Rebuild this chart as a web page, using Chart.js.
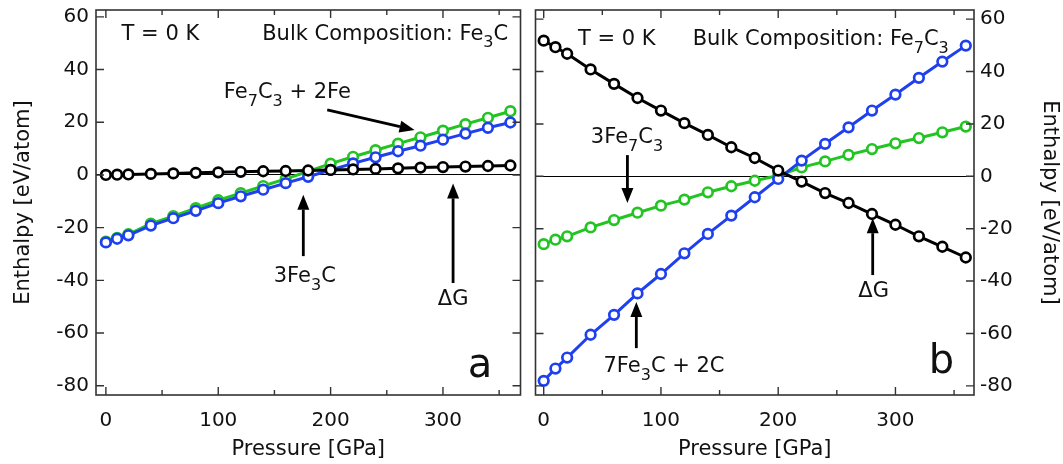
<!DOCTYPE html>
<html>
<head>
<meta charset="utf-8">
<script src="https://cdn.jsdelivr.net/npm/chart.js@4/dist/chart.umd.min.js"></script>
<style>
  html, body { margin: 0; padding: 0; background: #fff; }
  #wrap { position: relative; width: 1063px; height: 464px; }
  #left { position: absolute; left: 0; top: 0; }
  #right { position: absolute; left: 528px; top: 0; }
</style>
</head>
<body>
<div id="wrap">
  <canvas id="left" width="528" height="464"></canvas>
  <canvas id="right" width="535" height="464"></canvas>
</div>
<script>
// pressure points (GPa), shared by both panels
const pressure = [0, 10, 20, 40, 60, 80, 100, 120, 140, 160, 180, 200, 220, 240, 260, 280, 300, 320, 340, 360];

// panel a: bulk composition Fe3C
const aDeltaG = [0, 0.1, 0.2, 0.4, 0.6, 0.8, 1.0, 1.2, 1.4, 1.5, 1.7, 1.9, 2.1, 2.3, 2.5, 2.8, 3.0, 3.2, 3.4, 3.6];
const aThreeFe3C = [-25.6, -24.2, -22.9, -19.2, -16.4, -13.6, -10.7, -8.1, -5.6, -3.1, -0.7, 1.9, 4.4, 6.7, 9.0, 11.1, 13.4, 15.7, 17.9, 19.9];
const aFe7C3Fe = [-25.3, -23.9, -22.5, -18.5, -15.6, -12.6, -9.6, -6.9, -4.2, -1.5, 1.3, 4.3, 6.9, 9.4, 11.9, 14.3, 16.8, 19.3, 21.7, 24.2];

// panel b: bulk composition Fe7C3
const bDeltaG = [51.8, 49.3, 46.8, 40.8, 35.3, 29.9, 25.1, 20.3, 15.8, 11.1, 7.0, 2.2, -2.0, -6.4, -10.2, -14.4, -18.5, -22.9, -26.9, -31.0];
const bSevenFe3C = [-78.1, -73.4, -69.2, -60.5, -52.9, -44.7, -37.3, -29.4, -22.0, -15.0, -8.0, -1.0, 6.0, 12.4, 18.7, 25.1, 31.2, 37.6, 43.8, 49.9];
const bThreeFe7C3 = [-25.9, -24.2, -22.9, -19.5, -16.7, -13.9, -11.2, -8.9, -6.1, -3.8, -1.7, 0.3, 3.4, 5.7, 8.2, 10.4, 12.6, 14.6, 16.8, 19.0];

// tick labels
const enthalpyTicks = [-80, -60, -40, -20, 0, 20, 40, 60];
const pressureTicks = [0, 100, 200, 300];
const pressureMinor = [50, 150, 250, 350];

const FONT = '"DejaVu Sans", sans-serif';
const BLUE = '#1f40ee';
const GREEN = '#22c422';
const BLACK = '#000';

function toPoints(ys) {
  return pressure.map((p, i) => ({ x: p, y: ys[i] }));
}

function series(ys, color) {
  return {
    data: toPoints(ys),
    borderColor: color,
    borderWidth: 3,
    pointRadius: 4.8,
    pointBorderWidth: 2.7,
    pointBorderColor: color,
    pointBackgroundColor: '#fff',
    tension: 0,
  };
}

// "Fe_7C_3" -> [["Fe",false],["7",true],["C",false],["3",true]]
function richParts(s) {
  const out = [];
  const re = /_(\d)/g;
  let last = 0, m;
  while ((m = re.exec(s))) {
    if (m.index > last) out.push([s.slice(last, m.index), false]);
    out.push([m[1], true]);
    last = re.lastIndex;
  }
  if (last < s.length) out.push([s.slice(last), false]);
  return out;
}

function drawRich(ctx, s, x, y, align, size) {
  const parts = richParts(s);
  const sub = Math.round(size * 0.74);
  let w = 0;
  parts.forEach(([t, isSub]) => {
    ctx.font = (isSub ? sub : size) + 'px ' + FONT;
    w += ctx.measureText(t).width;
  });
  let cx = align === 'center' ? x - w / 2 : align === 'right' ? x - w : x;
  ctx.textAlign = 'left';
  ctx.textBaseline = 'alphabetic';
  parts.forEach(([t, isSub]) => {
    ctx.font = (isSub ? sub : size) + 'px ' + FONT;
    ctx.fillText(t, cx, isSub ? y + size * 0.36 : y);
    cx += ctx.measureText(t).width;
  });
}

function drawArrow(ctx, x1, y1, x2, y2) {
  const ang = Math.atan2(y2 - y1, x2 - x1);
  const head = 15, half = 6;
  const bx = x2 - head * Math.cos(ang), by = y2 - head * Math.sin(ang);
  ctx.beginPath();
  ctx.moveTo(x1, y1);
  ctx.lineTo(bx, by);
  ctx.stroke();
  ctx.beginPath();
  ctx.moveTo(x2, y2);
  ctx.lineTo(bx + half * Math.sin(ang), by - half * Math.cos(ang));
  ctx.lineTo(bx - half * Math.sin(ang), by + half * Math.cos(ang));
  ctx.closePath();
  ctx.fill();
}

// frame with inward ticks on all four sides
const framePlugin = {
  id: 'frame',
  afterDatasetsDraw(chart) {
    const { ctx, chartArea: a, scales: { x, y } } = chart;
    ctx.save();
    ctx.strokeStyle = '#333';
    ctx.lineWidth = 1.4;
    ctx.beginPath();
    pressureTicks.forEach(v => {
      const p = x.getPixelForValue(v);
      ctx.moveTo(p, a.bottom); ctx.lineTo(p, a.bottom - 8);
      ctx.moveTo(p, a.top); ctx.lineTo(p, a.top + 8);
    });
    pressureMinor.forEach(v => {
      const p = x.getPixelForValue(v);
      ctx.moveTo(p, a.bottom); ctx.lineTo(p, a.bottom - 5);
      ctx.moveTo(p, a.top); ctx.lineTo(p, a.top + 5);
    });
    enthalpyTicks.forEach(v => {
      const p = y.getPixelForValue(v);
      ctx.moveTo(a.left, p); ctx.lineTo(a.left + 8, p);
      ctx.moveTo(a.right, p); ctx.lineTo(a.right - 8, p);
    });
    ctx.stroke();
    ctx.lineWidth = 1.6;
    ctx.strokeRect(a.left, a.top, a.right - a.left, a.bottom - a.top);
    ctx.restore();
  },
};

// text labels and arrows, positioned in data units
const notesPlugin = {
  id: 'notes',
  afterDraw(chart, args, opts) {
    const { ctx, scales: { x, y } } = chart;
    ctx.save();
    ctx.fillStyle = '#111';
    ctx.strokeStyle = '#000';
    ctx.lineWidth = 2.8;
    (opts.texts || []).forEach(t => {
      drawRich(ctx, t.text, x.getPixelForValue(t.x), y.getPixelForValue(t.y), t.align, t.size || 21);
    });
    ctx.fillStyle = '#000';
    (opts.arrows || []).forEach(r => {
      drawArrow(ctx, x.getPixelForValue(r[0]), y.getPixelForValue(r[1]),
        x.getPixelForValue(r[2]), y.getPixelForValue(r[3]));
    });
    ctx.restore();
  },
};

function makeChart(id, side, datasets, yMin, yMax, xMin, xMax, notes) {
  const isLeft = side === 'left';
  return new Chart(document.getElementById(id), {
    type: 'line',
    data: { datasets },
    plugins: [framePlugin, notesPlugin],
    options: {
      responsive: false,
      animation: false,
      devicePixelRatio: 1,
      layout: { padding: isLeft ? { top: 10, right: 3, left: 0, bottom: 0 } : { top: 10, right: 0, left: 3, bottom: 0 } },
      plugins: {
        legend: { display: false },
        tooltip: { enabled: false },
        notes,
      },
      scales: {
        x: {
          type: 'linear',
          position: 'bottom',
          min: xMin,
          max: xMax,
          afterBuildTicks: s => { s.ticks = pressureTicks.map(v => ({ value: v })); },
          afterFit: s => { s.height = 69; s.paddingLeft = 0; s.paddingRight = 0; },
          ticks: { autoSkip: false, maxRotation: 0, padding: 6, color: '#111', font: { family: FONT, size: 20 } },
          grid: { display: false },
          border: { display: false },
          title: { display: true, text: 'Pressure [GPa]', color: '#111', font: { family: FONT, size: 21 }, padding: { top: 0, bottom: 2 } },
        },
        y: {
          type: 'linear',
          position: side,
          min: yMin,
          max: yMax,
          afterBuildTicks: s => { s.ticks = enthalpyTicks.map(v => ({ value: v })); },
          afterFit: s => { s.width = isLeft ? 96 : 89; s.paddingTop = 0; s.paddingBottom = 0; },
          ticks: { padding: isLeft ? 7 : 6, color: '#111', font: { family: FONT, size: 20 } },
          grid: {
            drawTicks: false,
            lineWidth: 1,
            color: c => (c.tick && c.tick.value === 0 ? '#000' : 'rgba(0,0,0,0)'),
          },
          border: { display: false },
          title: { display: true, text: 'Enthalpy [eV/atom]', color: '#111', font: { family: FONT, size: 21 }, padding: { top: isLeft ? 11 : 1, bottom: 0 } },
        },
      },
    },
  });
}

makeChart('left', 'left',
  [series(aDeltaG, BLACK), series(aThreeFe3C, BLUE), series(aFe7C3Fe, GREEN)],
  -83.5, 62.6, -8.8, 369,
  {
    texts: [
      { text: 'T = 0 K', x: 14, y: 51.3, align: 'left' },
      { text: 'Bulk Composition: Fe_3C', x: 358, y: 51.3, align: 'right' },
      { text: 'Fe_7C_3 + 2Fe', x: 105, y: 29.2, align: 'left' },
      { text: '3Fe_3C', x: 177, y: -40.6, align: 'center' },
      { text: '\u0394G', x: 309, y: -49.4, align: 'center' },
      { text: 'a', x: 333, y: -76.7, align: 'center', size: 40 },
    ],
    arrows: [
      [197, 24.7, 274.7, 17.1],
      [175.7, -30.8, 175.7, -7.5],
      [309, -41, 309, -3.2],
    ],
  });

makeChart('right', 'right',
  [series(bDeltaG, BLACK), series(bSevenFe3C, BLUE), series(bThreeFe7C3, GREEN)],
  -83.5, 63.5, -7, 367,
  {
    texts: [
      { text: 'T = 0 K', x: 29.3, y: 50.1, align: 'left' },
      { text: 'Bulk Composition: Fe_7C_3', x: 345.5, y: 50.1, align: 'right' },
      { text: '3Fe_7C_3', x: 71, y: 12.7, align: 'center' },
      { text: '\u0394G', x: 281.4, y: -46.1, align: 'center' },
      { text: '7Fe_3C + 2C', x: 102.6, y: -74.8, align: 'center' },
      { text: 'b', x: 339.2, y: -75.1, align: 'center', size: 40 },
    ],
    arrows: [
      [71.4, 8.1, 71.4, -10.2],
      [280.6, -37.7, 280.6, -16],
      [79, -65.6, 79, -48],
    ],
  });
</script>
</body>
</html>
